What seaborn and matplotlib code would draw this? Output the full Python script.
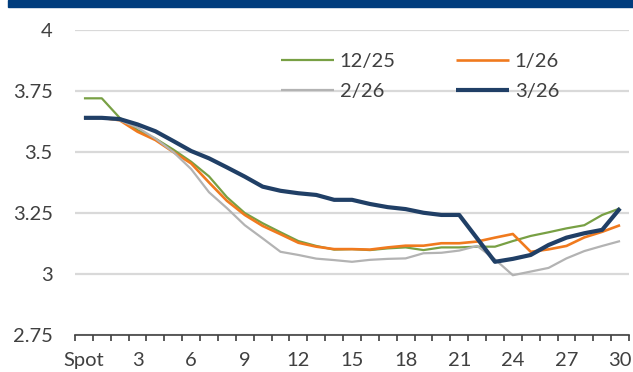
import numpy as np
import pandas as pd
import matplotlib
matplotlib.use("Agg")
import matplotlib.pyplot as plt
from matplotlib.patches import Rectangle
from matplotlib.ticker import FixedLocator, NullFormatter
import seaborn as sns

# Tenor buckets along the curve
tenors = ["Spot"] + [str(i) for i in range(1, 31)]

# Curve snapshots by observation month
curve_1225 = [3.72, 3.72, 3.64, 3.59, 3.555, 3.51, 3.46, 3.40, 3.315, 3.25,
              3.208, 3.171, 3.135, 3.115, 3.10, 3.102, 3.098, 3.105, 3.109, 3.098,
              3.109, 3.109, 3.112, 3.112, 3.135, 3.156, 3.171, 3.187, 3.20, 3.242,
              3.269]
curve_0126 = [3.64, 3.64, 3.63, 3.583, 3.549, 3.50, 3.453, 3.375, 3.30, 3.242,
              3.197, 3.163, 3.128, 3.112, 3.102, 3.102, 3.10, 3.109, 3.116, 3.116,
              3.126, 3.126, 3.133, 3.149, 3.164, 3.091, 3.101, 3.115, 3.15, 3.173,
              3.20]
curve_0226 = [3.64, 3.64, 3.63, 3.60, 3.555, 3.50, 3.43, 3.335, 3.27, 3.20,
              3.146, 3.091, 3.078, 3.063, 3.057, 3.05, 3.058, 3.062, 3.064, 3.085,
              3.087, 3.096, 3.115, 3.06, 2.995, 3.01, 3.025, 3.064, 3.094, 3.115,
              3.135]
curve_0326 = [3.64, 3.64, 3.635, 3.613, 3.585, 3.545, 3.504, 3.474, 3.437, 3.399,
              3.358, 3.341, 3.331, 3.324, 3.304, 3.304, 3.287, 3.274, 3.266, 3.251,
              3.242, 3.242, 3.146, 3.05, 3.062, 3.078, 3.119, 3.149, 3.167, 3.181,
              3.269]

series_names = ["12/25", "1/26", "2/26", "3/26"]
y_ticks = [2.75, 3, 3.25, 3.5, 3.75, 4]
y_tick_labels = ["2.75", "3", "3.25", "3.5", "3.75", "4"]

colors = {"12/25": "#78a044", "1/26": "#f07a1e", "2/26": "#b3b3b3", "3/26": "#203f66"}
widths = {"12/25": 1.6, "1/26": 1.9, "2/26": 1.6, "3/26": 3.0}

frames = []
for name, vals in zip(series_names, [curve_1225, curve_0126, curve_0226, curve_0326]):
    frames.append(pd.DataFrame({"pos": np.arange(len(tenors)), "rate": vals, "series": name}))
df = pd.concat(frames, ignore_index=True)

sns.set_theme(style="white")
plt.rcParams["font.family"] = ["Lato", "DejaVu Sans"]

fig = plt.figure(figsize=(6.33, 3.72), dpi=100)
ax = fig.add_axes([75 / 633, 37 / 372, (629 - 75) / 633, (342 - 37) / 372])

# header band
fig.patches.append(Rectangle((8 / 633, 365 / 372), 1 - 8 / 633, 7 / 372,
                             transform=fig.transFigure, color="#003c7d", zorder=0))

for name in series_names:
    sub = df[df["series"] == name]
    sns.lineplot(data=sub, x="pos", y="rate", ax=ax, color=colors[name],
                 linewidth=widths[name], label=name, solid_capstyle="butt")

ax.set_xlim(-0.5, len(tenors) - 0.5)
ax.set_ylim(2.75, 4)
ax.set_xlabel("")
ax.set_ylabel("")

ax.set_yticks(y_ticks)
ax.set_yticklabels(y_tick_labels)
ax.yaxis.grid(True, color="#d9d9d9", linewidth=1.6)
ax.set_axisbelow(True)

major = list(range(0, len(tenors), 3))
ax.set_xticks(major)
ax.set_xticklabels([tenors[i] for i in major])
ax.xaxis.set_minor_locator(FixedLocator(np.arange(-0.5, len(tenors), 1.0)))
ax.xaxis.set_minor_formatter(NullFormatter())
ax.tick_params(axis="x", which="major", length=0, pad=12, labelsize=14.5, labelcolor="#404040")
ax.tick_params(axis="x", which="minor", length=4.5, width=1.2, color="#404040", direction="out", bottom=True)
ax.tick_params(axis="y", length=0, pad=16, labelsize=14.5, labelcolor="#404040")

for side in ["top", "right", "left"]:
    ax.spines[side].set_visible(False)
ax.spines["bottom"].set_color("#404040")
ax.spines["bottom"].set_linewidth(1.2)

handles, labels = ax.get_legend_handles_labels()
lookup = dict(zip(labels, handles))
order = ["12/25", "2/26", "1/26", "3/26"]
leg = ax.legend([lookup[k] for k in order], order, ncol=2, frameon=False,
                loc="upper left", bbox_to_anchor=((280 - 75) / 554 - 0.012, 0.95),
                fontsize=14.5, handlelength=2.6, handletextpad=0.3,
                columnspacing=3.0, labelspacing=0.62, borderaxespad=0)
for t in leg.get_texts():
    t.set_color("#404040")

fig.savefig("out.png", dpi=100)
